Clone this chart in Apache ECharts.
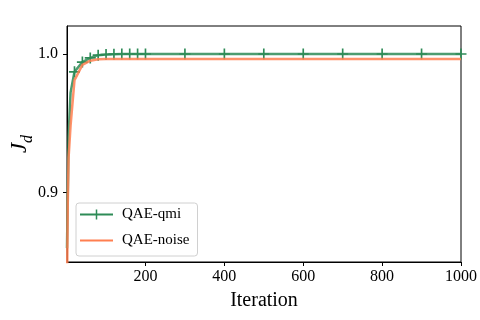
<!DOCTYPE html>
<html>
<head>
<meta charset="utf-8">
<script src="https://cdn.jsdelivr.net/npm/echarts@6/dist/echarts.min.js"></script>
<style>
  html, body { margin: 0; padding: 0; background: #fff; }
  #chart { width: 480px; height: 320px; }
</style>
</head>
<body>
<div id="chart"></div>
<script>
// iterations (x) and J_d values
const iterations = [1, 3, 5, 10, 20, 40, 60, 80, 100, 120, 140, 160, 180, 200, 300, 400, 500, 600, 700, 800, 900, 1000];
const qaeQmi = [0.86, 0.90, 0.94, 0.972, 0.987, 0.994, 0.997, 0.999, 0.9995, 0.9997, 0.9998, 0.9998, 0.9998, 0.9998, 0.9998, 0.9998, 0.9998, 0.9998, 0.9998, 0.9998, 0.9998, 0.9998];
const qaeNoise = [0.83, 0.893, 0.925, 0.948, 0.981, 0.992, 0.995, 0.996, 0.9962, 0.9962, 0.9962, 0.9962, 0.9962, 0.9962, 0.9962, 0.9962, 0.9962, 0.9962, 0.9962, 0.9962, 0.9962, 0.9962];
const markedIters = [20, 40, 60, 80, 100, 120, 140, 160, 180, 200, 300, 400, 500, 600, 700, 800, 900, 1000];
const xTicks = [200, 400, 600, 800, 1000];
const yTicks = [0.9, 1.0];

const GREEN = '#2e8b57';
const ORANGE = '#ff7f50';
const FONT = 'Liberation Serif';

const plusPath = 'path://M4.25,0 L5.75,0 L5.75,4.25 L10,4.25 L10,5.75 L5.75,5.75 L5.75,10 L4.25,10 L4.25,5.75 L0,5.75 L0,4.25 L4.25,4.25 Z';
const legendGreen = 'path://M0,4 L15.75,4 L15.75,0 L17.25,0 L17.25,4 L33,4 L33,6 L17.25,6 L17.25,10 L15.75,10 L15.75,6 L0,6 Z';
const legendOrange = 'path://M0,0 L33,0 L33,2 L0,2 Z';

const chart = echarts.init(document.getElementById('chart'));

const axisCommon = {
  axisLine: { show: true, lineStyle: { color: '#000', width: 1 } },
  axisTick: { show: true, inside: false, length: 4, lineStyle: { color: '#000' } },
  splitLine: { show: false },
};

chart.setOption({
  backgroundColor: '#fff',
  animation: false,
  grid: {
    left: 67, right: 19, top: 26, bottom: 58,
    containLabel: false, outerBoundsMode: 'none',
    show: true, borderColor: '#000', borderWidth: 1,
  },
  legend: {
    orient: 'vertical',
    left: 76,
    top: 203,
    padding: [4, 8, 8, 4],
    itemWidth: 33,
    itemHeight: 14,
    itemGap: 11,
    symbolKeepAspect: true,
    borderColor: '#d0d0d0',
    borderWidth: 1,
    borderRadius: 3,
    textStyle: { fontFamily: FONT, fontSize: 15, color: '#000', padding: [0, 0, 0, 4] },
    data: [
      { name: 'QAE-qmi', icon: legendGreen },
      { name: 'QAE-noise', icon: legendOrange },
    ],
  },
  xAxis: Object.assign({}, axisCommon, {
    type: 'value',
    min: 1,
    max: 1000,
    name: 'Iteration',
    nameLocation: 'middle',
    nameGap: 29,
    nameTextStyle: { fontFamily: FONT, fontSize: 20, color: '#000' },
    axisTick: Object.assign({}, axisCommon.axisTick, { customValues: xTicks }),
    axisLabel: {
      customValues: xTicks, fontFamily: FONT, fontSize: 16, color: '#000', margin: 7,
      formatter: (v) => String(v),
    },
  }),
  yAxis: Object.assign({}, axisCommon, {
    type: 'value',
    min: 0.85,
    max: 1.02,
    name: '{j|J}{d|d}',
    nameLocation: 'middle',
    nameRotate: 90,
    nameGap: 31,
    nameMoveOverlap: false,
    nameTextStyle: {
      rich: {
        j: { fontFamily: FONT, fontStyle: 'italic', fontSize: 23, color: '#000', verticalAlign: 'top', lineHeight: 28 },
        d: { fontFamily: FONT, fontStyle: 'italic', fontSize: 16, color: '#000', verticalAlign: 'bottom', lineHeight: 16 },
      },
    },
    axisTick: Object.assign({}, axisCommon.axisTick, { customValues: yTicks }),
    axisLabel: {
      customValues: yTicks,
      fontFamily: FONT, fontSize: 16, color: '#000', margin: 9,
      formatter: (v) => v.toFixed(1),
    },
  }),
  series: [
    {
      name: 'QAE-qmi',
      type: 'line',
      data: iterations.map((x, i) => [x, qaeQmi[i]]),
      symbol: (value) => (markedIters.includes(value[0]) ? plusPath : 'none'),
      symbolSize: 11,
      showAllSymbol: true,
      itemStyle: { color: GREEN },
      lineStyle: { color: GREEN, width: 2.5, opacity: 0.85 },
      clip: true,
      z: 2,
    },
    {
      name: 'QAE-noise',
      type: 'line',
      data: iterations.map((x, i) => [x, qaeNoise[i]]),
      showSymbol: false,
      symbol: 'none',
      itemStyle: { color: ORANGE },
      lineStyle: { color: ORANGE, width: 2.5, opacity: 0.85 },
      clip: true,
      z: 3,
    },
  ],
});
</script>
</body>
</html>
